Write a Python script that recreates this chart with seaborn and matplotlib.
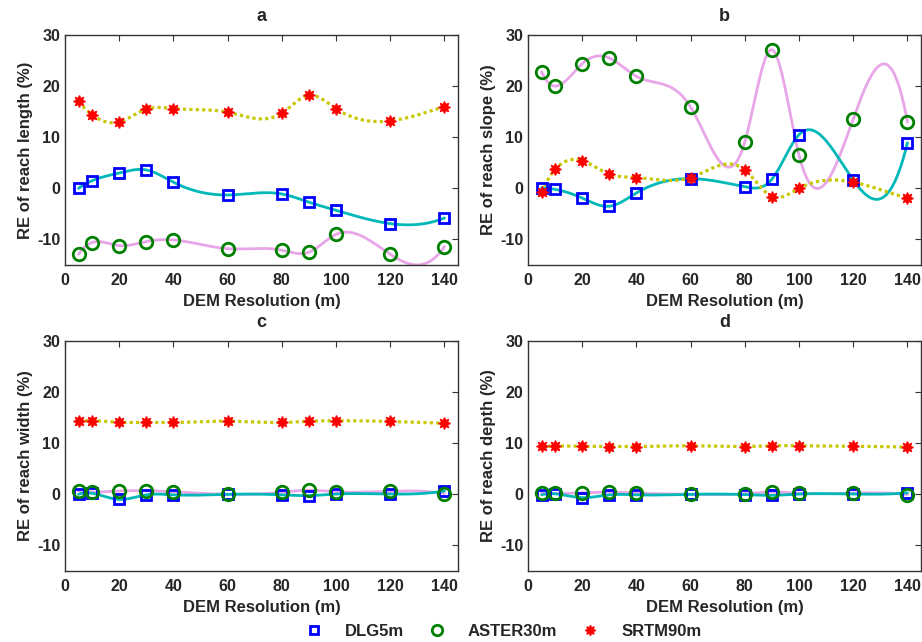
import numpy as np
import pandas as pd
import matplotlib
matplotlib.use("Agg")
import matplotlib.pyplot as plt
import seaborn as sns
from matplotlib.lines import Line2D

sns.set_theme(style="white")
plt.rcParams['font.family'] = ['Liberation Sans', 'DejaVu Sans']
plt.rcParams['font.weight'] = 'bold'
plt.rcParams['axes.unicode_minus'] = False

resolution = [5, 10, 20, 30, 40, 60, 80, 90, 100, 120, 140]

length_dlg = [0, 1.5, 3.0, 3.6, 1.2, -1.3, -1.1, -2.7, -4.3, -6.9, -5.8]
length_aster = [-12.9, -10.6, -11.2, -10.4, -10.1, -11.8, -12.1, -12.5, -9.0, -12.9, -11.4]
length_srtm = [17.0, 14.4, 13.0, 15.5, 15.6, 14.9, 14.7, 18.2, 15.6, 13.2, 16.0]

slope_dlg = [0.1, -0.2, -1.9, -3.5, -0.9, 1.9, 0.3, 1.8, 10.5, 1.6, 8.9]
slope_aster = [22.8, 20.0, 24.4, 25.5, 21.9, 15.9, 9.1, 27.1, 6.5, 13.6, 13.0]
slope_srtm = [-0.7, 3.7, 5.4, 2.8, 2.1, 2.1, 3.6, -1.6, 0.0, 1.2, -1.9]

width_dlg = [0.0, 0.2, -1.0, -0.1, -0.1, 0.0, -0.1, -0.25, 0.05, 0.05, 0.65]
width_aster = [0.65, 0.45, 0.65, 0.7, 0.5, 0.0, 0.4, 0.8, 0.5, 0.6, 0.15]
width_srtm = [14.3, 14.4, 14.1, 14.05, 14.05, 14.3, 14.05, 14.3, 14.4, 14.25, 13.9]

depth_dlg = [-0.1, 0.1, -0.65, -0.1, -0.1, 0.0, -0.05, -0.2, 0.05, 0.05, 0.3]
depth_aster = [0.3, 0.2, 0.3, 0.45, 0.25, 0.0, 0.1, 0.45, 0.2, 0.25, -0.05]
depth_srtm = [9.4, 9.45, 9.4, 9.35, 9.35, 9.5, 9.35, 9.5, 9.5, 9.4, 9.25]

panel_titles = ['a', 'b', 'c', 'd']
y_labels = ['RE of reach length (%)', 'RE of reach slope (%)',
            'RE of reach width (%)', 'RE of reach depth (%)']
x_label = 'DEM Resolution (m)'
series_names = ['DLG5m', 'ASTER30m', 'SRTM90m']
x_ticks = [0, 20, 40, 60, 80, 100, 120, 140]
y_ticks = [-10, 0, 10, 20, 30]

panels = [
    (length_dlg, length_aster, length_srtm),
    (slope_dlg, slope_aster, slope_srtm),
    (width_dlg, width_aster, width_srtm),
    (depth_dlg, depth_aster, depth_srtm),
]


def notaknot_spline(x, y, xs):
    x = np.asarray(x, float)
    y = np.asarray(y, float)
    n = len(x)
    h = np.diff(x)
    A = np.zeros((n, n))
    b = np.zeros(n)
    A[0, 0] = h[1]
    A[0, 1] = -(h[0] + h[1])
    A[0, 2] = h[0]
    A[-1, -3] = h[-1]
    A[-1, -2] = -(h[-2] + h[-1])
    A[-1, -1] = h[-2]
    for i in range(1, n - 1):
        A[i, i - 1] = h[i - 1]
        A[i, i] = 2 * (h[i - 1] + h[i])
        A[i, i + 1] = h[i]
        b[i] = 6 * ((y[i + 1] - y[i]) / h[i] - (y[i] - y[i - 1]) / h[i - 1])
    M = np.linalg.solve(A, b)
    idx = np.clip(np.searchsorted(x, xs) - 1, 0, n - 2)
    x0 = x[idx]
    x1 = x[idx + 1]
    hh = x1 - x0
    return (M[idx] * (x1 - xs) ** 3 / (6 * hh) + M[idx + 1] * (xs - x0) ** 3 / (6 * hh)
            + (y[idx] / hh - M[idx] * hh / 6) * (x1 - xs)
            + (y[idx + 1] / hh - M[idx + 1] * hh / 6) * (xs - x0))


line_styles = [
    dict(color='#00b8b8', lw=2.0, ls='-'),
    dict(color='#e8a6e8', lw=2.0, ls='-'),
    dict(color='#c8c800', lw=2.3, ls=(0, (1, 1))),
]
marker_styles = [
    dict(marker='s', ms=7.5, mfc='none', mec='#0000ff', mew=2.0),
    dict(marker='o', ms=9, mfc='none', mec='#008000', mew=2.0),
    dict(marker=(8, 1, 0), ms=8.5, mfc='#ff0000', mec='#ff0000', mew=1.0),
]

fig = plt.figure(figsize=(9.22, 6.42), dpi=100)
positions = [
    [0.0705, 0.5872, 0.4262, 0.3583],
    [0.5727, 0.5872, 0.4262, 0.3583],
    [0.0705, 0.1106, 0.4262, 0.3583],
    [0.5727, 0.1106, 0.4262, 0.3583],
]

xs = np.linspace(resolution[0], resolution[-1], 600)
for k, pos in enumerate(positions):
    ax = fig.add_axes(pos)
    series = panels[k]
    order = [1, 0, 2]
    for j in order:
        df = pd.DataFrame({'x': xs, 'y': notaknot_spline(resolution, series[j], xs)})
        sns.lineplot(data=df, x='x', y='y', ax=ax, sort=False, estimator=None,
                     color=line_styles[j]['color'], lw=line_styles[j]['lw'],
                     linestyle=line_styles[j]['ls'], zorder=2)
    for j in range(3):
        ax.plot(resolution, series[j], ls='none', zorder=3, **marker_styles[j])
    ax.set_xlim(0, 145)
    ax.set_ylim(-15, 30)
    ax.set_xticks(x_ticks)
    ax.set_yticks(y_ticks)
    ax.tick_params(direction='in', top=True, right=True, length=4, width=0.8,
                   color='#333333', labelsize=11.5)
    ax.tick_params(axis='x', pad=6)
    ax.tick_params(axis='y', pad=3.5)
    for lab in ax.get_xticklabels() + ax.get_yticklabels():
        lab.set_fontweight('bold')
    for sp in ax.spines.values():
        sp.set_color('#333333')
        sp.set_linewidth(1.0)
    ax.set_xlabel(x_label, fontsize=12, fontweight='bold', labelpad=4)
    ax.set_ylabel(y_labels[k], fontsize=12, fontweight='bold', labelpad=2.5)
    ax.set_title(panel_titles[k], fontsize=13, fontweight='bold', pad=10)

handles = [Line2D([], [], ls='none', **marker_styles[j]) for j in range(3)]
handles[0].set_markersize(6)
handles[1].set_markersize(7.5)
handles[2].set_markersize(7.5)
fig.legend(handles, series_names, loc='center', bbox_to_anchor=(0.545, 0.017),
           ncol=3, frameon=False, prop={'weight': 'bold', 'size': 12},
           handlelength=1.2, handletextpad=1.26, columnspacing=1.38)

fig.savefig('out.png', dpi=100)
